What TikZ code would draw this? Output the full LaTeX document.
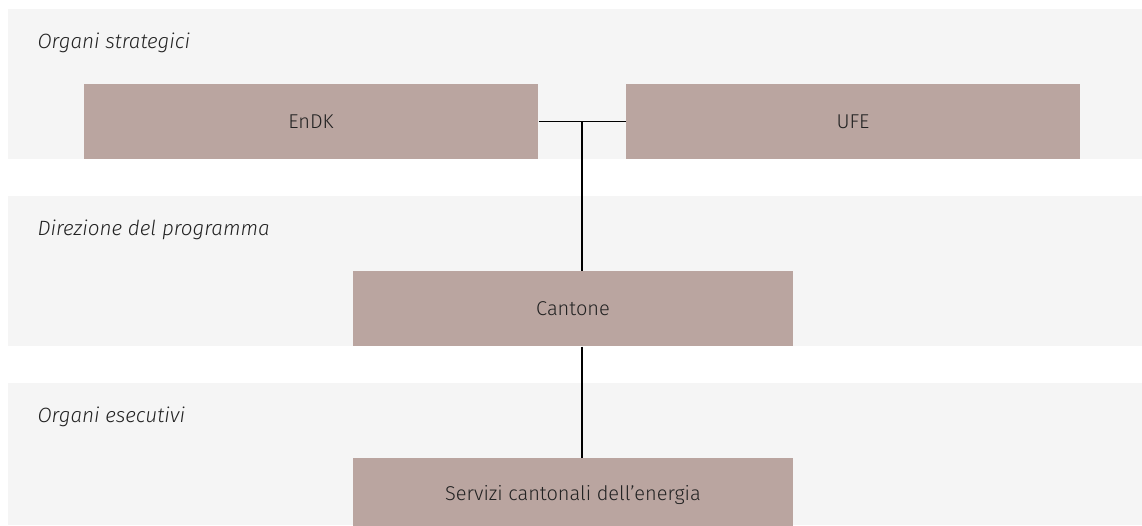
\documentclass[tikz,border=0pt]{standalone}
\usepackage{fontspec}
\setmainfont{Fira Sans}[UprightFont=* Light, ItalicFont=* Light Italic]
\definecolor{bandgray}{RGB}{245,245,245}
\definecolor{boxrose}{RGB}{186,165,160}
\definecolor{inkgray}{RGB}{34,34,34}
\tikzset{every picture/.style={line width=0.75pt}}
\tikzset{
  band/.style={fill=bandgray, draw=none},
  orgbox/.style={fill=boxrose, draw=none, inner sep=0pt, minimum height=56.25pt,
    text=inkgray, font=\fontsize{15}{18}\selectfont},
  bandlabel/.style={anchor=base west, inner sep=0pt, text=inkgray,
    font=\itshape\fontsize{15.5}{18}\selectfont},
  link/.style={draw=black, line width=1.1pt},
}

\begin{document}
\begin{tikzpicture}[x=0.75pt,y=0.75pt,yscale=-1,xscale=1]
  \useasboundingbox (0,0) rectangle (1142,525);

  % bands
  \fill[band] (8,9) rectangle (1142,159);
  \fill[band] (8,196) rectangle (1142,346);
  \fill[band] (8,383) rectangle (1142,525);

  \node[bandlabel] (lstrat) at (37,48) {Organi strategici};
  \node[bandlabel] (ldir) at (37,235) {Direzione del programma};
  \node[bandlabel] (lexec) at (37,422) {Organi esecutivi};

  % boxes
  \node[orgbox, minimum width=340.5pt] (endk) at (311,121.5) {EnDK};
  \node[orgbox, minimum width=340.5pt] (ufe) at (853,121.5) {UFE};
  \node[orgbox, minimum width=330pt] (cantone) at (573,308.5) {Cantone};
  \node[orgbox, minimum width=330pt] (servizi) at (573,495.5) {Servizi cantonali dell’energia};

  % links
  \coordinate (joint) at (582,121);
  \draw[link] (endk.east) -- (ufe.west);
  \draw[link] (joint) -- (joint |- cantone.north);
  \draw[link] (joint |- cantone.south) -- (joint |- servizi.north);

\end{tikzpicture}
\end{document}
